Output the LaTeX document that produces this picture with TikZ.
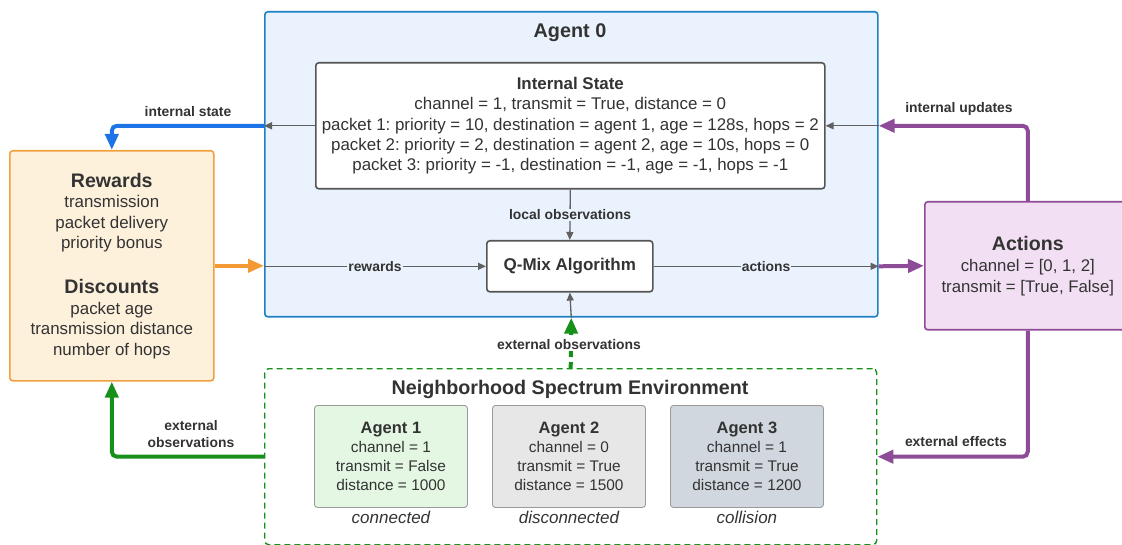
\documentclass[tikz,border=0pt]{standalone}
\usepackage{fontspec}
\setmainfont{Liberation Sans}
\usetikzlibrary{arrows.meta}
\frenchspacing

\definecolor{txt}{HTML}{333333}
\definecolor{agentborder}{HTML}{1E80C4}
\definecolor{agentfill}{HTML}{EAF3FD}
\definecolor{boxborder}{HTML}{555555}
\definecolor{rewborder}{HTML}{F0A03E}
\definecolor{rewfill}{HTML}{FDF1DC}
\definecolor{actborder}{HTML}{8E4B97}
\definecolor{actfill}{HTML}{F3DFF3}
\definecolor{envgreen}{HTML}{17901A}
\definecolor{arrblue}{HTML}{1C74E6}
\definecolor{arrorange}{HTML}{F49A35}
\definecolor{arrgray}{HTML}{606060}
\definecolor{ag1fill}{HTML}{E3F7E2}
\definecolor{ag2fill}{HTML}{E7E7E7}
\definecolor{ag3fill}{HTML}{D1D7DF}
\definecolor{agbord}{HTML}{9A9A9A}

\newcommand{\fsz}[2]{\fontsize{#1}{#2}\selectfont}

\tikzset{
  panel/.style={anchor=north west, inner sep=0pt, rounded corners=3pt, line width=1.6pt},
  whitebox/.style={panel, draw=boxborder, fill=white, text=txt, align=center},
  subagent/.style={anchor=north west, inner sep=0pt, rounded corners=3pt, line width=0.9pt,
    draw=agbord, minimum width=153pt, minimum height=102pt, text=txt, align=center,
    font=\fsz{15.4}{18.8}},
  caption/.style={text=txt, font=\fsz{17}{18}\itshape},
  flowlabel/.style={text=txt, font=\fsz{13.9}{16}\bfseries, inner sep=1pt},
  thinarrow/.style={draw=arrgray, line width=1.3pt, -{Triangle[length=8pt,width=7pt]}},
  fatarrow/.style={line width=4pt, rounded corners=5pt, -{Triangle[length=16pt,width=13pt]}}
}

\begin{document}
\begin{tikzpicture}[x=1pt,y=-1pt]
\useasboundingbox (0,0) rectangle (1122,545);

% Agent 0 container
\node[panel, draw=agentborder, fill=agentfill, minimum width=613pt, minimum height=305pt] (agent0) at (264,11) {};
\node[text=txt, font=\fsz{19.8}{22}\bfseries] (agent0title) at (570,33) {Agent 0};

% internal state of agent 0
\node[whitebox, minimum width=509pt, minimum height=126pt, font=\fsz{16.9}{20.2}] (istate) at (315,62)
  {{\bfseries Internal State}\\
   channel = 1, transmit = True, distance = 0\\
   packet 1: priority = 10, destination = agent 1, age = 128s, hops = 2\\
   packet 2: priority = 2, destination = agent 2, age = 10s, hops = 0\\
   packet 3: priority = -1, destination = -1, age = -1, hops = -1};

% learning algorithm
\node[whitebox, minimum width=166pt, minimum height=51pt, font=\fsz{17}{20}\bfseries] (qmix) at (486,240) {Q-Mix Algorithm};

% rewards and discounts
\node[panel, draw=rewborder, fill=rewfill, minimum width=204pt, minimum height=230pt,
  text=txt, align=center, font=\fsz{16.9}{20.6}] (rewards) at (9,150)
  {{\fsz{19.6}{22}\bfseries Rewards}\\
   transmission\\ packet delivery\\ priority bonus\\[24pt]
   {\fsz{19.6}{22}\bfseries Discounts}\\
   packet age\\ transmission distance\\ number of hops};

% action space
\node[panel, draw=actborder, fill=actfill, minimum width=206pt, minimum height=128pt,
  text=txt, align=center, font=\fsz{16.8}{21}] (actions) at (924,201)
  {{\fsz{19.6}{22}\bfseries Actions}\\
   channel = [0, 1, 2]\\ transmit = [True, False]};

% environment with neighbouring agents
\node[anchor=north west, inner sep=0pt, rounded corners=4pt, line width=1.4pt, draw=envgreen,
  dash pattern=on 6pt off 4pt, minimum width=612pt, minimum height=176pt] (env) at (264,368) {};
\node[text=txt, font=\fsz{19.7}{22}\bfseries] (envtitle) at (570,389) {Neighborhood Spectrum Environment};

\node[subagent, fill=ag1fill] (ag1) at (314,405)
  {{\fsz{16.5}{20}\bfseries Agent 1}\\ channel = 1\\ transmit = False\\ distance = 1000};
\node[subagent, fill=ag2fill] (ag2) at (492,405)
  {{\fsz{16.5}{20}\bfseries Agent 2}\\ channel = 0\\ transmit = True\\ distance = 1500};
\node[subagent, fill=ag3fill] (ag3) at (670,405)
  {{\fsz{16.5}{20}\bfseries Agent 3}\\ channel = 1\\ transmit = True\\ distance = 1200};
\node[caption] (cap1) at (ag1.south |- 0,517) {connected};
\node[caption] (cap2) at (ag2.south |- 0,517) {disconnected};
\node[caption] (cap3) at (ag3.south |- 0,517) {collision};

% connectors inside agent 0
\draw[thinarrow] (istate.south) -- (qmix.north)
  node[midway, flowlabel, fill=agentfill] (lobs) {local observations};
\draw[thinarrow] (agent0.west |- qmix.west) -- (qmix.west)
  node[midway, flowlabel, fill=agentfill] (lrew) {rewards};
\draw[thinarrow] (qmix.east) -- (agent0.east |- qmix.east)
  node[midway, flowlabel, fill=agentfill] (lact) {actions};
\draw[thinarrow] (istate.west) -- (istate.west -| agent0.west);
\draw[thinarrow] (istate.east -| agent0.east) -- (istate.east);
\draw[thinarrow] (agent0.south) -- (qmix.south);

% connectors between agent, rewards, actions and environment
\draw[fatarrow, draw=arrblue]
  (istate.west -| agent0.west) -| (rewards.north);
\node[flowlabel] (listate) at (188,112) {internal state};

\draw[fatarrow, draw=arrorange] (rewards.east) -- (agent0.west |- rewards.east);

\draw[fatarrow, draw=actborder] (agent0.east |- qmix.east) -- (actions.west);

\draw[fatarrow, draw=actborder] (actions.north) |- (istate.east -| agent0.east);
\node[flowlabel] (lupd) at (959,109) {internal updates};

\draw[fatarrow, draw=actborder] (actions.south) |- (env.east);
\node[flowlabel] (leff) at (956,442) {external effects};

\draw[fatarrow, draw=envgreen] (env.west) -| (rewards.south);
\node[flowlabel, align=center, font=\fsz{13.9}{17.5}\bfseries] (lext) at (191,434) {external\\observations};

\draw[fatarrow, draw=envgreen, dash pattern=on 6pt off 5pt] (env.north) -- (agent0.south);
\node[flowlabel, fill=white] (lextobs) at (569,345) {external observations};
\end{tikzpicture}
\end{document}
